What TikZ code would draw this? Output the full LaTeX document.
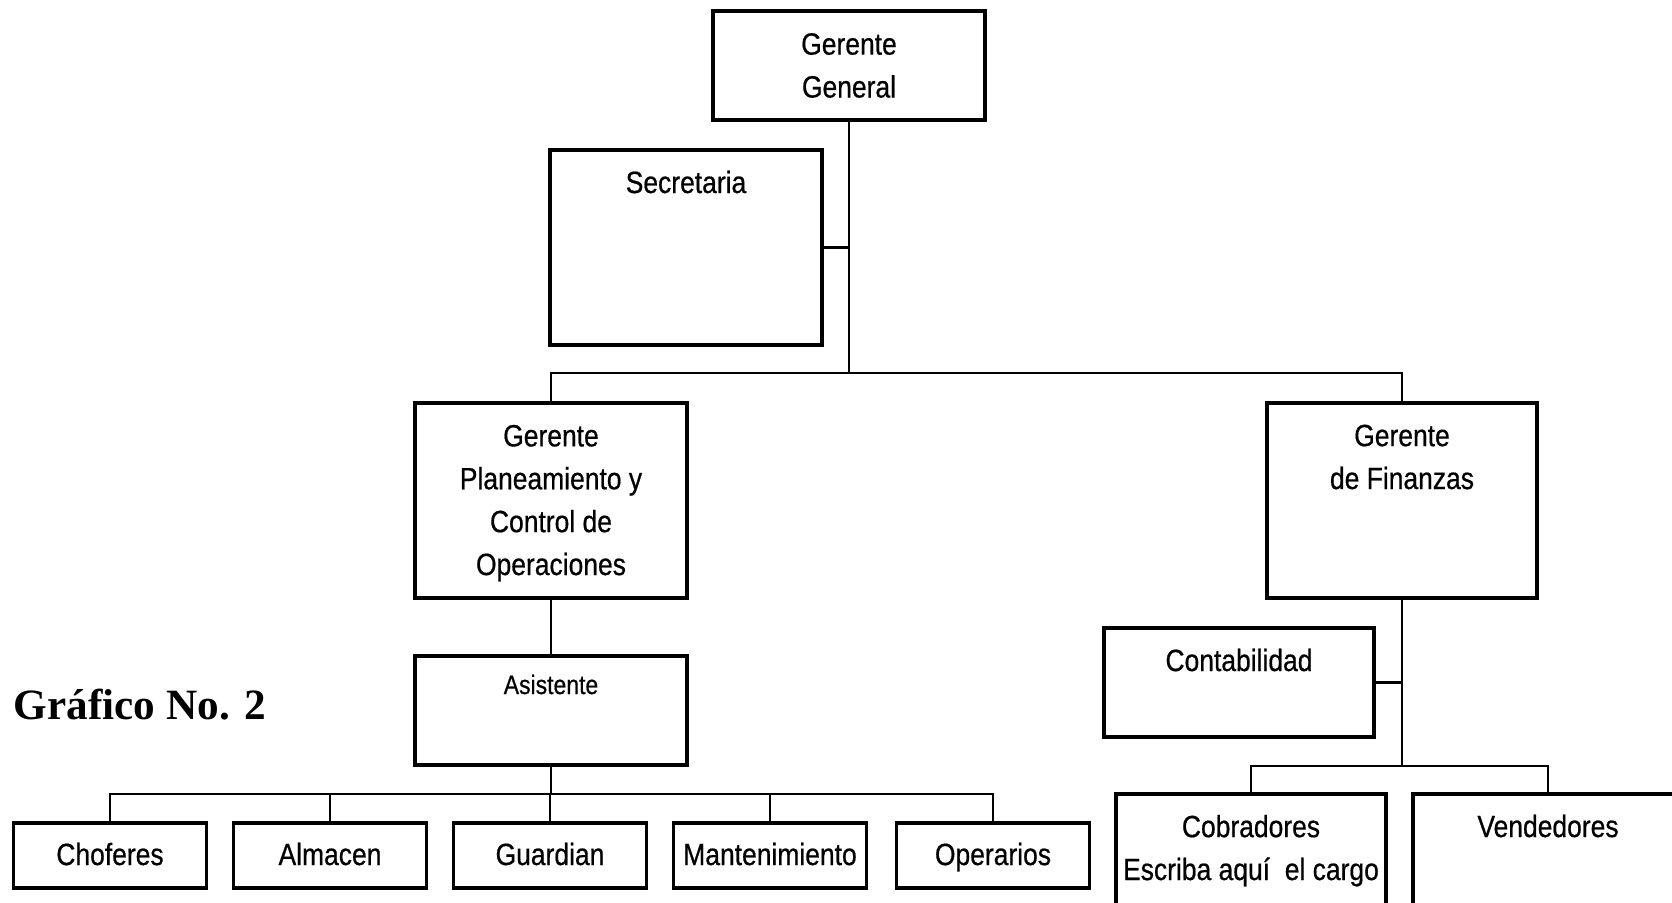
\documentclass[tikz,border=0pt]{standalone}
\usepackage{fontspec}
\setmainfont{Liberation Sans}[FakeStretch=0.86,FakeBold=0.6]
\newfontfamily\titlefont{Liberation Serif}
\begin{document}
\begin{tikzpicture}[
  box/.style={draw, line width=1pt, inner sep=0pt, minimum width=2.72cm, minimum height=1.09cm},
  tallbox/.style={box, minimum height=1.95cm},
  lowbox/.style={box, minimum width=1.93cm, minimum height=0.65cm},
  txt/.style={anchor=base, align=center, inner sep=0pt, font=\fontsize{8.75}{12.2}\selectfont},
  conn/.style={line width=0.8pt}]
 \useasboundingbox (0,0) rectangle (16.72,-9.02);
 \clip (0,0) rectangle (16.72,-9.02);
 % cajas
 \node[box] (gg) at (8.49,-0.655) {};
 \node[tallbox] (sec) at (6.86,-2.475) {};
 \node[tallbox] (gp) at (5.51,-5.005) {};
 \node[tallbox, minimum width=2.70cm] (gf) at (14.02,-5.005) {};
 \node[box] (asis) at (5.51,-7.105) {};
 \node[box, minimum width=2.70cm] (cont) at (12.39,-6.825) {};
 \node[tallbox, minimum width=2.70cm] (cob) at (12.51,-8.915) {};
 \node[tallbox, minimum width=2.70cm] (vend) at (15.48,-8.915) {};
 % textos (base = ultima linea)
 \node[txt] (ggt) at (8.49,-0.975) {Gerente\\General};
 \node[txt] (sect) at (6.86,-1.93) {Secretaria};
 \node[txt] (gpt) at (5.51,-5.75) {Gerente\\Planeamiento y\\Control de\\Operaciones};
 \node[txt] (gft) at (14.02,-4.89) {Gerente\\de Finanzas};
 \node[txt, font=\fontsize{7.6}{10}\selectfont] (asist) at (5.51,-6.94) {Asistente};
 \node[txt] (contt) at (12.39,-6.71) {Contabilidad};
 \node[txt] (cobt) at (12.51,-8.80) {Cobradores\\Escriba aquí\ \ el cargo};
 \node[txt] (vendt) at (15.48,-8.37) {Vendedores};
 \node[anchor=base west, inner sep=0pt, font=\titlefont\bfseries\fontsize{12.3}{15}\selectfont] (titulo) at (0.13,-7.19) {Gráfico No. 2};
 % lineas
 \coordinate (topbus) at (8.49,-3.73);
 \coordinate (lowbus) at (5.51,-7.94);
 \coordinate (finbus) at (14.02,-7.66);
 \draw[conn] (gg.south) -- (topbus);
 \draw[conn] (sec.east) -- (sec.east -| gg.south);
 \draw[conn] (gp.north) |- (topbus) -| (gf.north);
 \draw[conn] (gp.south) -- (asis.north);
 \draw[conn] (asis.south) -- (lowbus);
 \foreach \n/\x/\t in {chof/1.10/Choferes, alm/3.30/Almacen, guar/5.50/Guardian, mant/7.70/Mantenimiento, oper/9.93/Operarios}{
  \node[lowbox] (\n) at (\x,-8.555) {};
  \node[txt] (\n t) at (\x,-8.65) {\t};
  \draw[conn] (lowbus) -| (\n.north);
 }
 \draw[conn] (gf.south) -- (finbus);
 \draw[conn] (cont.east) -- (cont.east -| gf.south);
 \draw[conn] (finbus) -| (cob.north);
 \draw[conn] (finbus) -| (vend.north);
\end{tikzpicture}
\end{document}
